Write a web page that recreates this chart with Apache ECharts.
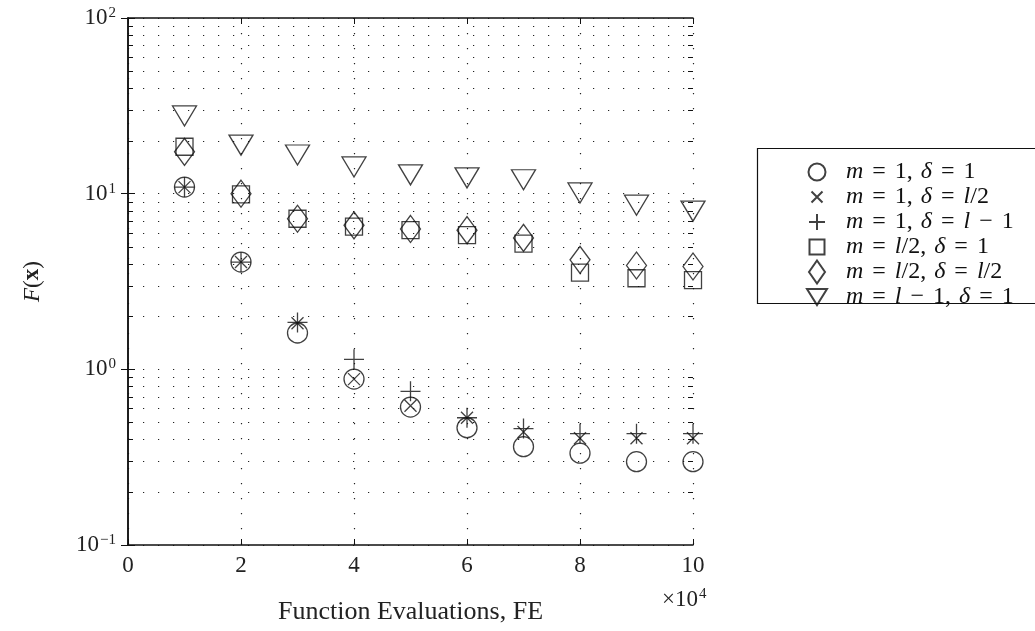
<!DOCTYPE html>
<html><head><meta charset="utf-8">
<script src="https://cdn.jsdelivr.net/npm/echarts@6/dist/echarts.min.js"></script>
<style>html,body{margin:0;padding:0;background:#fff}#c{width:1035px;height:631px}</style>
</head><body><div id="c"></div>
<script>
// x values in units of 10^4 function evaluations
const fe = [1, 2, 3, 4, 5, 6, 7, 8, 9, 10];
const s_m1_d1   = [10.9, 4.08, 1.61, 0.88, 0.61, 0.465, 0.363, 0.333, 0.298, 0.298];
const s_m1_dl2  = [10.9, 4.08, 1.83, 0.88, 0.62, 0.53, 0.44, 0.405, 0.405, 0.405];
const s_m1_dl1  = [10.9, 4.08, 1.85, 1.14, 0.75, 0.53, 0.46, 0.43, 0.43, 0.43];
const s_ml2_d1  = [18.5, 9.9, 7.2, 6.5, 6.2, 5.8, 5.2, 3.55, 3.3, 3.22];
const s_ml2_dl2 = [17.3, 10.0, 7.2, 6.6, 6.3, 6.2, 5.6, 4.2, 3.9, 3.85];
const s_ml1_d1  = [27.7, 18.9, 16.6, 14.2, 12.8, 12.3, 12.0, 10.1, 8.6, 7.96];
const seriesNames = ['m = 1, δ = 1', 'm = 1, δ = l/2', 'm = 1, δ = l − 1',
                     'm = l/2, δ = 1', 'm = l/2, δ = l/2', 'm = l − 1, δ = 1'];
const xTickLabels = ['0', '2', '4', '6', '8', '10'];
const yDecadeExp = [-1, 0, 1, 2];
const xAxisName = 'Function Evaluations, FE';
const xScaleLabel = '×10';
const xScaleExp = '4';

const FONT = 'Liberation Serif';
const minorVals = [];
for (let e = -1; e < 2; e++) for (let k = 2; k <= 9; k++) minorVals.push([0, k * Math.pow(10, e)]);

const symbols = [
  {symbol: 'circle', size: 20},
  {symbol: 'path://M0,0L10,10M10,0L0,10', size: 12},
  {symbol: 'path://M5,0L5,10M0,5L10,5', size: 20},
  {symbol: 'rect', size: 17},
  {symbol: 'path://M5,0L10,7L5,14L0,7Z', size: [20, 27]},
  {symbol: 'path://M0,0L12,0L6,10Z', size: [24, 20]}
];
const legendIcons = [
  'path://M0,0M24,24M3.5,12A8.5,8.5,0,1,1,20.5,12A8.5,8.5,0,1,1,3.5,12Z',
  'path://M0,0M24,24M6.5,6.5L17.5,17.5M17.5,6.5L6.5,17.5',
  'path://M0,0M24,24M12,4L12,20M4,12L20,12',
  'path://M0,0M24,24M4.5,4.5L19.5,4.5L19.5,19.5L4.5,19.5Z',
  'path://M0,0M24,24M12,0.5L20,12L12,23.5L4,12Z',
  'path://M0,0M24,24M2,4L22,4L12,20Z'
];
const allData = [s_m1_d1, s_m1_dl2, s_m1_dl1, s_ml2_d1, s_ml2_dl2, s_ml1_d1];

const dotted = {color: '#222', width: 1.2, type: [1.2, 13.8]};
const supRich = {sup: {fontSize: 15, fontFamily: FONT, color: '#222', verticalAlign: 'top', padding: [0, 0, 10, 1]},
                 n: {fontSize: 23, fontFamily: FONT, color: '#222'}};

const chart = echarts.init(document.getElementById('c'));
const series = allData.map((d, i) => ({
  name: seriesNames[i], type: 'scatter', xAxisIndex: 0, yAxisIndex: 0,
  symbol: symbols[i].symbol, symbolSize: symbols[i].size,
  itemStyle: {color: 'rgba(0,0,0,0)', borderColor: '#111', borderWidth: 1.3},
  emphasis: {disabled: true},
  data: fe.map((x, j) => [x, d[j]]), z: 5
}));
series.push({
  type: 'custom', xAxisIndex: 0, yAxisIndex: 0, silent: true, z: 1,
  data: minorVals,
  renderItem: function (params, api) {
    const cs = params.coordSys;
    const y = Math.round(api.coord([0, api.value(1)])[1]) + 0.5;
    return {type: 'group', children: [
      {type: 'line', shape: {x1: cs.x, y1: y, x2: cs.x + cs.width, y2: y}, style: {stroke: '#222', lineWidth: 1.2, lineDash: [1.2, 13.8]}},
      {type: 'line', shape: {x1: cs.x, y1: y, x2: cs.x + 5, y2: y}, style: {stroke: '#111', lineWidth: 1}},
      {type: 'line', shape: {x1: cs.x + cs.width - 5, y1: y, x2: cs.x + cs.width, y2: y}, style: {stroke: '#111', lineWidth: 1}}
    ]};
  }
});

const LF = 24;
const lt = {fontFamily: FONT, fontSize: LF, color: '#111', lineHeight: 22};
chart.setOption({
  animation: false,
  backgroundColor: '#fff',
  grid: {left: 128, top: 18, right: 342, bottom: 86},
  xAxis: [{
    type: 'value', min: 0, max: 10, interval: 2, position: 'bottom',
    axisLine: {lineStyle: {color: '#111', width: 1.5}},
    axisTick: {inside: true, length: 6, lineStyle: {color: '#111'}},
    axisLabel: {fontFamily: FONT, fontSize: 23, color: '#222', margin: 9,
      formatter: v => xTickLabels[Math.round(v / 2)]},
    splitLine: {show: true, lineStyle: dotted},
    name: xAxisName, nameLocation: 'middle', nameGap: 54,
    nameTextStyle: {fontFamily: FONT, fontSize: 26, color: '#222'}
  }, {
    type: 'value', min: 0, max: 10, interval: 2, position: 'top',
    axisLine: {show: true, lineStyle: {color: '#111', width: 1.5}},
    axisTick: {inside: true, length: 6, lineStyle: {color: '#111'}},
    axisLabel: {show: false}, splitLine: {show: false}
  }],
  yAxis: [{
    type: 'log', logBase: 10, min: 0.1, max: 100, position: 'left',
    axisLine: {show: true, lineStyle: {color: '#111', width: 1.5}},
    axisTick: {inside: true, length: 7, lineStyle: {color: '#111'}},
    axisLabel: {margin: 12, color: '#222',
      formatter: v => { const e = Math.round(Math.log10(v)); const s = yDecadeExp.includes(e) ? (e < 0 ? '−' + (-e) : '' + e) : ''; return '{n|10}{sup|' + s + '}'; },
      rich: supRich},
    splitLine: {show: true, lineStyle: dotted},
    name: '{i|F}({b|x})', nameLocation: 'middle', nameGap: 84, nameRotate: 90,
    nameTextStyle: {rich: {i: {fontFamily: FONT, fontStyle: 'italic', fontSize: 23, color: '#222'},
                           b: {fontFamily: FONT, fontWeight: 'bold', fontSize: 23, color: '#222'}},
                    fontFamily: FONT, fontSize: 23, color: '#222'}
  }, {
    type: 'log', logBase: 10, min: 0.1, max: 100, position: 'right',
    axisLine: {show: true, lineStyle: {color: '#111', width: 1.5}},
    axisTick: {inside: true, length: 7, lineStyle: {color: '#111'}},
    axisLabel: {show: false}, splitLine: {show: false}
  }],
  legend: {
    data: seriesNames.map((n, i) => ({name: n, icon: legendIcons[i]})),
    orient: 'vertical', left: 804, top: 159,
    itemWidth: 24, itemHeight: 24, itemGap: -1, padding: 0,
    selectedMode: false,
    formatter: name => name.replace(/([mδl])/g, '{i|$1}').replace(/ = /g, '{eq|=}').replace(/ − /g, '{eq|−}').replace(/, /g, ',{sp| }'),
    textStyle: Object.assign({}, lt, {padding: [0, 0, 0, 12],
      rich: {i: Object.assign({}, lt, {fontStyle: 'italic'}),
             eq: Object.assign({}, lt, {padding: [0, 9, 0, 9]}),
             sp: Object.assign({}, lt, {padding: [0, 0, 0, 2]})}})
  },
  graphic: [
    {type: 'rect', shape: {x: 757.5, y: 148.5, width: 300, height: 155}, style: {fill: 'none', stroke: '#111', lineWidth: 1.2}, z: 0},
    {type: 'text', left: 662, top: 587, style: {text: '{n|' + xScaleLabel + '}{sup|' + xScaleExp + '}', rich: supRich, fill: '#222'}}
  ],
  series: series
});
</script></body></html>
